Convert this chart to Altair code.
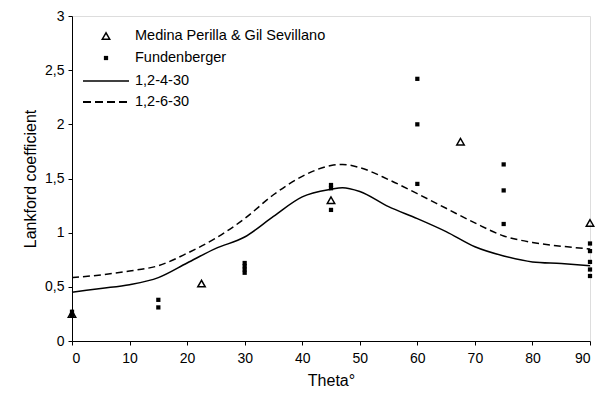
import altair as alt
import pandas as pd

# Medina Perilla & Gil Sevillano (open triangles)
medina_theta = [0, 22.5, 45, 67.5, 90]
medina_r = [0.25, 0.53, 1.30, 1.84, 1.09]

# Fundenberger (filled squares)
fund_theta = [0, 0, 15, 15, 30, 30, 30, 30, 45, 45, 45, 60, 60, 60, 75, 75, 75, 90, 90, 90, 90, 90]
fund_r = [0.27, 0.24, 0.38, 0.31, 0.63, 0.66, 0.69, 0.72, 1.44, 1.41, 1.21, 2.42, 2.00, 1.45,
          1.63, 1.39, 1.08, 0.90, 0.83, 0.73, 0.66, 0.60]

# Model curves
curve_theta = [0, 5, 10, 15, 20, 25, 30, 35, 40, 45, 47, 50, 55, 60, 65, 70, 75, 80, 85, 90]
curve_4_30 = [0.45, 0.485, 0.52, 0.585, 0.72, 0.855, 0.96, 1.15, 1.33, 1.40, 1.415, 1.38, 1.24,
              1.13, 1.01, 0.87, 0.785, 0.73, 0.715, 0.695]
curve_6_30 = [0.585, 0.61, 0.646, 0.695, 0.81, 0.95, 1.13, 1.35, 1.52, 1.62, 1.63, 1.60, 1.49,
              1.36, 1.225, 1.09, 0.97, 0.91, 0.875, 0.85]

legend_labels = ["Medina Perilla & Gil Sevillano", "Fundenberger", "1,2-4-30", "1,2-6-30"]

FONT = "Liberation Sans"

med_df = pd.DataFrame({"theta": medina_theta, "r": medina_r})
fund_df = pd.DataFrame({"theta": fund_theta, "r": fund_r})
c1_df = pd.DataFrame({"theta": curve_theta, "r": curve_4_30})
c2_df = pd.DataFrame({"theta": curve_theta, "r": curve_6_30})

xs = alt.Scale(domain=[0, 90], nice=False, zero=False)
ys = alt.Scale(domain=[0, 3], nice=False)

xenc = alt.X("theta:Q", scale=xs, title="Theta°",
             axis=alt.Axis(values=list(range(0, 91, 10)), grid=False, tickSize=4,
                           domainColor="black", tickColor="black", labelColor="black",
                           labelFontSize=14, titleFontSize=16, labelFont=FONT, titleFont=FONT,
                           titleFontWeight="normal", titleColor="black", labelPadding=6, titlePadding=7))
yenc = alt.Y("r:Q", scale=ys, title="Lankford coefficient",
             axis=alt.Axis(values=[0, 0.5, 1, 1.5, 2, 2.5, 3], grid=False, tickSize=4,
                           labelExpr="replace(toString(datum.value), '.', ',')",
                           domainColor="black", tickColor="black", labelColor="black",
                           labelFontSize=14, titleFontSize=16, labelFont=FONT, titleFont=FONT,
                           titleFontWeight="normal", titleColor="black", labelPadding=4, titlePadding=6))

line1 = alt.Chart(c1_df).mark_line(color="black", strokeWidth=1.5, interpolate="monotone").encode(x=xenc, y=yenc)
line2 = alt.Chart(c2_df).mark_line(color="black", strokeWidth=1.5, strokeDash=[7, 4],
                                   interpolate="monotone").encode(x=xenc, y=yenc)
tri = alt.Chart(med_df).mark_point(shape="triangle-up", filled=False, color="black", size=55,
                                   strokeWidth=1.5, opacity=1, clip=False).encode(x=xenc, y=yenc)
sq = alt.Chart(fund_df).mark_square(color="black", size=18, opacity=1, clip=False).encode(x=xenc, y=yenc)

# Manual legend (inside plot area, top-left)
leg_txt_x = 63
leg_rows = [20, 42, 65, 86]
legend_layers = []
legend_layers.append(alt.Chart(med_df.head(1)).mark_point(shape="triangle-up", filled=False, color="black",
                                                          size=55, strokeWidth=1.5, opacity=1)
                     .encode(x=alt.value(34), y=alt.value(leg_rows[0])))
legend_layers.append(alt.Chart(fund_df.head(1)).mark_square(color="black", size=18, opacity=1)
                     .encode(x=alt.value(34), y=alt.value(leg_rows[1])))
legend_layers.append(alt.Chart(c1_df.head(1)).mark_rule(color="black", strokeWidth=1.5)
                     .encode(x=alt.value(11), x2=alt.value(57), y=alt.value(leg_rows[2])))
legend_layers.append(alt.Chart(c2_df.head(1)).mark_rule(color="black", strokeWidth=2, strokeDash=[8, 4])
                     .encode(x=alt.value(11), x2=alt.value(57), y=alt.value(leg_rows[3])))
for lab, yy in zip(legend_labels, leg_rows):
    legend_layers.append(
        alt.Chart(pd.DataFrame({"t": [lab]})).mark_text(align="left", baseline="middle", fontSize=14.5,
                                                        font=FONT, color="black")
        .encode(x=alt.value(leg_txt_x), y=alt.value(yy), text="t:N"))

chart = alt.layer(line2, line1, tri, sq, *legend_layers).properties(
    width=518, height=325,
    autosize=alt.AutoSizeParams(type="none"),
    padding={"left": 64, "top": 8, "right": 8, "bottom": 52},
).configure_view(stroke="#808080", strokeWidth=1).configure(background="white")

chart.save("out.html", embed_options={"renderer": "svg", "actions": False})
